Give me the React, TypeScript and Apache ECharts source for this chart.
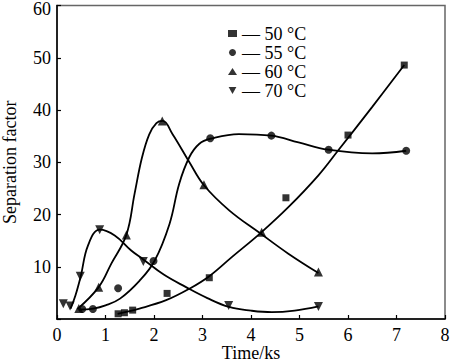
import React, { useEffect, useRef } from "react";
import * as echarts from "echarts";

// Measured points
const time50 = [1.26, 1.39, 1.56, 2.27, 3.14, 4.72, 6.0, 7.16];
const sep50 = [1.0, 1.2, 1.7, 4.9, 7.9, 23.2, 35.2, 48.6];
const time55 = [0.52, 0.74, 1.26, 1.99, 3.16, 4.42, 5.6, 7.2];
const sep55 = [1.9, 1.9, 5.9, 11.1, 34.6, 35.1, 32.4, 32.2];
const time60 = [0.45, 0.86, 1.43, 2.17, 3.03, 4.22, 5.39];
const sep60 = [2.0, 6.1, 16.1, 37.9, 25.7, 16.6, 9.0];
const time70 = [0.13, 0.27, 0.48, 0.88, 1.78, 3.54, 5.39];
const sep70 = [2.9, 2.5, 8.2, 17.1, 11.0, 2.6, 2.4];

// Fitted curves
const fitTime50 = [1.25, 1.7, 2.25, 2.73, 3.14, 3.61, 4.19, 4.77, 5.39, 5.8, 6.5, 7.16];
const fitSep50 = [1.0, 2.0, 3.6, 5.8, 8.2, 11.9, 16.4, 21.4, 27.5, 32.3, 40.6, 48.6];
const fitTime55 = [0.45, 0.75, 1.0, 1.3, 1.7, 2.01, 2.32, 2.52, 2.73, 2.93, 3.17, 3.75, 4.42, 4.98, 5.59, 6.5, 7.2];
const fitSep55 = [1.8, 2.0, 2.6, 3.9, 7.3, 11.1, 18.2, 25.9, 31.0, 33.5, 34.5, 35.4, 35.1, 33.8, 32.4, 31.7, 32.2];
const fitTime60 = [0.42, 0.86, 1.12, 1.43, 1.6, 1.75, 1.9, 2.05, 2.18, 2.38, 2.73, 3.03, 3.55, 4.19, 4.77, 5.39];
const fitSep60 = [1.9, 6.1, 10.6, 16.1, 24.0, 30.8, 35.3, 37.5, 37.9, 35.4, 30.0, 25.6, 20.8, 16.4, 12.5, 8.8];
const fitTime70 = [0.28, 0.38, 0.49, 0.64, 0.88, 1.19, 1.53, 1.78, 2.2, 2.66, 3.1, 3.55, 4.0, 4.43, 4.9, 5.39];
const fitSep70 = [2.0, 4.5, 8.2, 14.1, 17.1, 16.0, 13.1, 11.4, 8.5, 6.1, 4.0, 2.3, 1.6, 1.3, 1.6, 2.4];

const seriesNames = ["50 °C", "55 °C", "60 °C", "70 °C"];
const xTitle = "Time/ks";
const yTitle = "Separation factor";

const FONT = "'Liberation Serif', 'Times New Roman', serif";
const DOWN_TRI = "path://M0,0 L10,0 L5,9 Z";

const zip = (a: number[], b: number[]) => a.map((v, i) => [v, b[i]]);

export default function App() {
  const ref = useRef<HTMLDivElement>(null);
  useEffect(() => {
    document.body.style.margin = "0";
    const chart = echarts.init(ref.current!, undefined, { renderer: "svg" });
    const pts = [
      { t: time50, s: sep50, sym: "rect", size: 7 },
      { t: time55, s: sep55, sym: "circle", size: 8 },
      { t: time60, s: sep60, sym: "triangle", size: 9 },
      { t: time70, s: sep70, sym: DOWN_TRI, size: 9 },
    ];
    const fits = [
      [fitTime50, fitSep50],
      [fitTime55, fitSep55],
      [fitTime60, fitSep60],
      [fitTime70, fitSep70],
    ];
    const series: any[] = [];
    fits.forEach((f, i) => {
      series.push({
        name: "fit" + i,
        type: "line",
        data: zip(f[0], f[1]),
        smooth: 0.4,
        showSymbol: false,
        symbol: "none",
        lineStyle: { color: "#000", width: 1.8 },
        z: 2,
      });
    });
    pts.forEach((p, i) => {
      series.push({
        name: seriesNames[i],
        type: "scatter",
        data: zip(p.t, p.s),
        symbol: p.sym,
        symbolSize: p.size,
        itemStyle: { color: "#000" },
        z: 3,
      });
    });
    chart.setOption({
      animation: false,
      backgroundColor: "#fff",
      textStyle: { fontFamily: FONT },
      grid: {
        left: 57,
        right: 5,
        top: 5.5,
        bottom: 43,
        outerBoundsMode: "none",
        containLabel: false,
        show: true,
        borderColor: "#666",
        borderWidth: 1.5,
      },
      legend: {
        data: seriesNames,
        orient: "vertical",
        left: 228,
        top: 24,
        itemWidth: 9,
        itemHeight: 7,
        itemGap: 0,
        padding: 0,
        formatter: (n: string) => "— " + n,
        textStyle: { fontFamily: FONT, fontSize: 18, color: "#000", lineHeight: 19 },
        itemStyle: { color: "#000" },
      },
      xAxis: {
        type: "value",
        min: 0,
        max: 8,
        interval: 1,
        name: xTitle,
        nameLocation: "middle",
        nameMoveOverlap: false,
        nameGap: 25,
        nameTextStyle: { fontFamily: FONT, fontSize: 18, color: "#000", lineHeight: 18, verticalAlign: "top" },
        axisLine: { lineStyle: { color: "#000", width: 1.5 } },
        axisTick: { inside: true, length: 4, lineStyle: { color: "#000", width: 1.2 } },
        axisLabel: { fontFamily: FONT, fontSize: 18, color: "#000", margin: 7 },
        splitLine: { show: false },
      },
      yAxis: {
        type: "value",
        min: 0,
        max: 60,
        interval: 10,
        name: yTitle,
        nameLocation: "middle",
        nameGap: 38,
        nameTextStyle: { fontFamily: FONT, fontSize: 18, color: "#000" },
        axisLine: { show: true, lineStyle: { color: "#000", width: 1.5 } },
        axisTick: { show: true, inside: true, length: 4, lineStyle: { color: "#000", width: 1.2 } },
        axisLabel: {
          fontFamily: FONT,
          fontSize: 18,
          color: "#000",
          margin: 6,
          formatter: (v: number) => (v === 0 ? "" : v === 60 ? "{top|60}" : String(v)),
          rich: {
            top: { fontFamily: FONT, fontSize: 18, color: "#000", padding: [7, 0, 0, 0] },
          },
        },
        splitLine: { show: false },
      },
      series,
    });
    return () => chart.dispose();
  }, []);
  return <div ref={ref} style={{ width: 450, height: 362 }} />;
}
